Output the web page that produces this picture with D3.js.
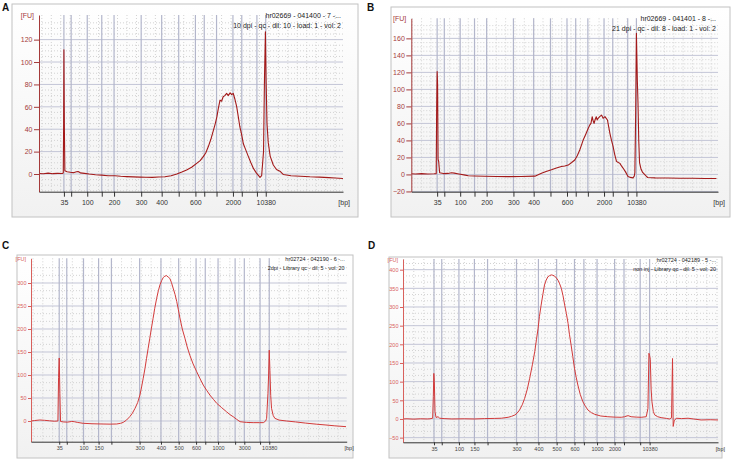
<!DOCTYPE html>
<html>
<head>
<meta charset="utf-8">
<script src="https://cdn.jsdelivr.net/npm/d3@7"></script>
<style>
  body { margin: 0; background: #fff; }
  svg { display: block; font-family: "Liberation Sans", Arial, sans-serif; }
</style>
</head>
<body>
<div id="chart"></div>
<script>
// Ladder peaks (bp) and their migration times (s)
const ladderSizes = [35, 50, 100, 150, 200, 300, 400, 500, 600, 700, 1000, 2000, 3000, 7000, 10380];
const ladderTimes = [43.0, 45.3, 50.4, 55.0, 58.9, 67.5, 74.0, 79.4, 84.7, 87.5, 91.4, 96.6, 99.4, 104.2, 107.0];

// Labelled x ticks per panel
const xLabelsA = [35, 100, 200, 300, 400, 600, 2000, 10380];
const xLabelsB = [35, 100, 200, 300, 400, 600, 2000, 10380];
const xLabelsC = [35, 100, 150, 300, 400, 500, 600, 1000, 3000, 10380];
const xLabelsD = [35, 100, 150, 300, 400, 500, 600, 1000, 2000, 10380];

// y ticks per panel
const yTicksA = [0, 20, 40, 60, 80, 100, 120];
const yTicksB = [-20, 0, 20, 40, 60, 80, 100, 120, 140, 160];
const yTicksC = [0, 50, 100, 150, 200, 250, 300];
const yTicksD = [-50, 0, 50, 100, 150, 200, 250, 300, 350, 400];

// Sample headers
const headerA = ["hr02669 - 041400 - 7 -...", "10 dpi - qc - dil: 10 - load: 1 - vol: 2"];
const headerB = ["hr02669 - 041401 - 8 -...", "21 dpi - qc - dil: 8 - load: 1 - vol: 2"];
const headerC = ["hr02724 - 042190 - 6 -...", "2dpi - Library qc - dil: 5 - vol: 20"];
const headerD = ["hr02724 - 042189 - 5 -...", "non inj - Library qc - dil: 5 - vol: 20"];

// Traces: [time (s), FU]
const traceA = [[35.1,0.5],[36.5,0.2],[38,0.8],[39.5,0.3],[41,0.6],[42.5,0.4],[42.8,1],[42.9,40],[43.0,111],[43.15,40],[43.3,3],[44,2],[45,1.5],[46,1.2],[47,2],[47.5,2.3],[48.2,1],[49.5,0.6],[51,0],[53,-0.6],[55,-1],[57,-1.5],[59.2,-1.6],[61,-2],[63,-2.3],[65,-2.6],[67.1,-2.8],[69,-2.9],[71,-3],[73,-2.7],[75,-2.5],[77,-1.5],[78.8,0],[80.4,1.8],[81.9,3.6],[83.5,6],[85.1,9.5],[86.2,12],[87.2,15.5],[88,19],[88.8,24.5],[89.6,31],[90.4,39],[91,45],[91.5,51],[92,59],[92.5,66],[93,65],[93.5,69],[94,70],[94.6,72],[95.1,70],[95.7,72.5],[96.2,71],[96.7,72],[97.2,67],[97.8,60],[98.3,51],[98.8,42],[99.3,36],[99.9,27],[100.6,22],[101.5,15.5],[102.3,10],[103.1,5],[104,1],[105.2,-3],[105.7,-1.5],[106.3,20],[106.6,85],[106.9,127],[107.1,85],[107.4,45],[107.8,28],[108.4,16],[109.4,8],[110.4,4],[111.5,2.5],[112.6,-0.5],[115,-1.5],[118,-2],[121,-2.5],[124,-2.8],[127,-3.2],[129,-3.5],[131.5,-4]];

const traceB = [[34.7,0.8],[36,0.5],[38,1],[40,0.6],[42,0.8],[42.7,1],[42.85,80],[43.0,121],[43.15,105],[43.3,18],[43.5,15],[43.8,2],[45,1],[46.5,1.2],[47.6,2],[48.5,1.5],[50,0.5],[52,-0.8],[53,-1.5],[55,-1.8],[58.3,-2.2],[62,-2.5],[66,-2.6],[70,-2.5],[74.4,-2],[76.5,1.5],[78,3.5],[79.7,5.4],[81.3,7.5],[82.9,9.3],[84,10],[85.1,11],[86.2,14],[87.2,17],[88,22],[88.8,28.7],[89.4,35],[89.9,40.4],[90.7,47],[91.5,54],[92,58],[92.4,60],[92.8,67.9],[93.1,63],[93.4,60],[93.7,64],[94.1,67.9],[94.4,64],[94.7,66],[95.2,68],[95.8,69.8],[96.3,66],[96.9,67.9],[97.3,66],[97.7,64],[98.1,56],[98.5,48],[99,40],[99.5,33],[100,24],[100.6,15.4],[101.2,14],[101.7,13],[102.2,10],[102.7,7.5],[103.5,3],[104.3,-2.3],[105.1,-3.5],[105.9,-4],[106.3,-2],[106.5,2],[106.75,70],[107.0,166],[107.3,110],[107.5,85],[107.75,40],[108.0,14],[108.5,6],[109.0,2.4],[110,-1.5],[110.6,-3.6],[113,-4],[117,-4.2],[121,-4.4],[125,-4.5],[129,-4.7],[132.7,-4.8]];

const traceC = [[34.4,0],[35.5,1],[37.1,2.2],[38.5,1.5],[40,0.5],[41.5,-0.5],[42.6,0],[42.8,95],[43.0,137],[43.2,60],[43.4,-1],[44.2,-2],[45.5,-2.5],[46.8,-1],[47.6,-1.5],[48.5,-3],[50.3,-5],[53,-6],[56,-6.5],[58.5,-6.8],[60.5,-6.5],[61.7,-5],[62.5,-3],[63.5,2],[64.5,9.4],[65.3,17],[66.1,27.5],[66.9,40],[67.6,56.5],[68.1,74],[68.6,93],[69.1,113],[69.6,136],[70.1,158],[70.6,180],[71.1,202],[71.6,223],[72.1,245],[72.7,267],[73.2,283],[73.7,296],[74.2,305],[74.7,312],[75.2,315],[75.7,316],[76.2,313],[76.7,310],[77.2,301],[77.7,289],[78.3,275],[78.8,260],[79.3,242],[79.8,223],[80.5,200],[81.3,180],[82,161],[82.8,143],[83.8,124],[84.9,107],[85.9,92],[86.9,78],[87.9,67],[88.9,56.5],[90,47],[91,38.4],[92.5,29],[94,20],[95,14],[96,9.4],[97,4],[98.1,-1.5],[100,-3],[102.1,-3.6],[104,-3.6],[105.2,-3.6],[105.9,0],[106.2,5.8],[106.6,60],[106.8,100],[107.0,154],[107.2,110],[107.45,55],[107.7,27.5],[108.2,12],[108.7,5.8],[110,2],[112.3,0],[115,-2],[118,-4.5],[121.5,-7],[124,-8.5],[127,-10.5],[130.4,-12.3]];

const traceD = [[33.8,0],[35,0.5],[37,-0.5],[39,0.5],[41,0],[41.8,0.5],[42.6,2],[42.8,60],[42.95,122],[43.1,100],[43.3,20],[43.6,4],[44.2,6],[44.7,2],[46,1],[48.3,0],[52,0.5],[55,0],[58,1],[61,1.5],[63,2],[65,4.5],[66,7],[67,10.7],[67.7,16],[68.4,24],[69.2,38],[69.9,55],[70.7,80],[71.4,109],[72.2,145],[72.9,180],[73.4,212],[73.9,243],[74.3,275],[74.8,305],[75.3,333],[75.8,359],[76.3,372],[76.8,381],[77.3,384],[77.8,386],[78.3,385],[78.8,383],[79.3,378],[79.8,372],[80.3,362],[80.8,350],[81.3,330],[81.8,305],[82.3,282],[82.8,256],[83.2,227],[83.7,198],[84.2,167],[84.7,136],[85.2,112],[85.7,91],[86.4,66],[87.2,46],[88,33],[88.7,24],[89.7,17],[90.7,12.5],[92.5,8],[94.6,6],[96.5,5],[98.6,4.5],[99.6,6],[100.6,9],[101.5,6],[103,5],[104.5,4.5],[106,6],[106.5,28],[106.8,176],[107.0,170],[107.2,160],[107.45,80],[107.7,46],[108.1,20],[108.5,11],[109.4,6],[110.4,3.6],[112,1.5],[112.9,0],[113.5,3],[113.8,162],[114.0,-20],[114.3,-5],[114.9,2],[116.5,1],[118.4,2],[120,0],[122.3,-2.7],[125,-2],[127.3,-2.7]];

const width = 738;
const height = 461;

const svg = d3.select("#chart").append("svg")
  .attr("width", width)
  .attr("height", height);

const grad = svg.append("defs").append("linearGradient")
  .attr("id", "bg").attr("x1", 0).attr("y1", 0).attr("x2", 0).attr("y2", 1);
grad.append("stop").attr("offset", "0%").attr("stop-color", "#ffffff");
grad.append("stop").attr("offset", "100%").attr("stop-color", "#f1f1f1");

const darkStyle = { line: "#a31a1a", axis: "#a53a3a", yText: "#a53a3a", xText: "#333", font: 7, tick: 5, xPad: 3, lineWidth: 1.1 };
const lightStyle = { line: "#d23a3a", axis: "#d8605c", yText: "#d8605c", xText: "#444", font: 5.5, tick: 3, xPad: 1.5, lineWidth: 1 };

const panels = [
  { id: "A", frame: [12, 4, 358, 217], left: 39, right: 343, top: 15, bottom: 191.7,
    xDomain: [35.1, 131.5], yDomain: [-15.8, 142], yTicks: yTicksA, minor: 3,
    xLabels: xLabelsA, header: headerA, trace: traceA, style: darkStyle, letter: [2, 11] },
  { id: "B", frame: [391, 7, 730, 217], left: 411.3, right: 718, top: 18.3, bottom: 191.7,
    xDomain: [34.7, 133.2], yDomain: [-20.3, 183.6], yTicks: yTicksB, minor: 3,
    xLabels: xLabelsB, header: headerB, trace: traceB, style: darkStyle, letter: [367, 11] },
  { id: "C", frame: [17, 255, 353, 458], left: 31, right: 346.7, top: 258.3, bottom: 441.7,
    xDomain: [34.4, 130.6], yDomain: [-45, 353.7], yTicks: yTicksC, minor: 2,
    xLabels: xLabelsC, header: headerC, trace: traceC, style: lightStyle, letter: [2, 249] },
  { id: "D", frame: [389, 257, 722, 458], left: 403, right: 718, top: 259, bottom: 442.3,
    xDomain: [33.8, 127.3], yDomain: [-62.5, 428.6], yTicks: yTicksD, minor: 2,
    xLabels: xLabelsD, header: headerD, trace: traceD, style: lightStyle, letter: [368, 249] }
];

panels.forEach(drawPanel);

function drawPanel(p) {
  const s = p.style;
  const g = svg.append("g");

  // Frame
  g.append("rect")
    .attr("x", p.frame[0]).attr("y", p.frame[1])
    .attr("width", p.frame[2] - p.frame[0])
    .attr("height", p.frame[3] - p.frame[1])
    .attr("fill", "url(#bg)")
    .attr("stroke", "#c2c2c2");

  // Panel letter
  svg.append("text")
    .attr("x", p.letter[0]).attr("y", p.letter[1])
    .text(p.id)
    .style("font-size", "10px").style("font-weight", "bold").attr("fill", "#111");

  const x = d3.scaleLinear().domain(p.xDomain).range([p.left, p.right]);
  const y = d3.scaleLinear().domain(p.yDomain).range([p.bottom, p.top]);

  // Grid: dotted minor lines
  const step = p.yTicks[1] - p.yTicks[0];
  const minorStep = step / (p.minor + 1);
  const minorY = d3.range(p.yTicks[0] - step, p.yDomain[1], minorStep)
    .filter((v) => v > p.yDomain[0] && Math.abs(v / step - Math.round(v / step)) > 0.01);
  g.append("g").selectAll("line").data(minorY).join("line")
    .attr("x1", p.left).attr("x2", p.right)
    .attr("y1", (d) => y(d)).attr("y2", (d) => y(d))
    .attr("stroke", "#d2d2d2").attr("stroke-dasharray", "1,2");

  const minorX = d3.range(Math.ceil(p.xDomain[0]), p.xDomain[1], 3);
  g.append("g").selectAll("line").data(minorX).join("line")
    .attr("x1", (d) => x(d)).attr("x2", (d) => x(d))
    .attr("y1", p.top).attr("y2", p.bottom)
    .attr("stroke", "#d2d2d2").attr("stroke-dasharray", "1,2");

  // Grid: solid lines at y ticks and ladder peaks
  g.append("g").selectAll("line").data(p.yTicks).join("line")
    .attr("x1", p.left).attr("x2", p.right)
    .attr("y1", (d) => y(d)).attr("y2", (d) => y(d))
    .attr("stroke", "#c3c5d6");

  g.append("g").selectAll("line").data(ladderTimes).join("line")
    .attr("x1", (d) => x(d)).attr("x2", (d) => x(d))
    .attr("y1", p.top).attr("y2", p.bottom)
    .attr("stroke", "#b3b6cb")
    .attr("stroke-width", 1.2);

  // Header text
  g.append("g").selectAll("text").data(p.header).join("text")
    .attr("x", p.right - 2)
    .attr("y", (d, i) => p.top + 2.5 + i * (s.font + 3.5))
    .attr("text-anchor", "end")
    .text((d) => d)
    .style("font-size", s.font + "px")
    .attr("fill", "#222");

  // Trace
  const clipId = "clip" + p.id;
  g.append("clipPath").attr("id", clipId).append("rect")
    .attr("x", p.left).attr("y", p.top)
    .attr("width", p.right - p.left).attr("height", p.bottom - p.top);

  g.append("path")
    .datum(p.trace)
    .attr("clip-path", `url(#${clipId})`)
    .attr("fill", "none")
    .attr("stroke", s.line)
    .attr("stroke-width", s.lineWidth)
    .attr("stroke-linejoin", "round")
    .attr("d", d3.line().x((d) => x(d[0])).y((d) => y(d[1])));

  // Axes
  const yAxis = d3.axisLeft(y).tickValues(p.yTicks).tickSize(s.tick).tickSizeOuter(0).tickPadding(1.5);
  const yg = g.append("g").attr("transform", `translate(${p.left},0)`).call(yAxis);
  yg.select(".domain").attr("stroke", s.axis);
  yg.selectAll(".tick line").attr("stroke", s.axis);
  yg.selectAll(".tick text").attr("fill", s.yText).style("font-size", s.font + "px").style("font-family", "inherit");

  const xAxis = d3.axisBottom(x)
    .tickValues(ladderTimes)
    .tickSize(s.tick)
    .tickSizeOuter(0)
    .tickPadding(s.xPad)
    .tickFormat((d, i) => (p.xLabels.includes(ladderSizes[i]) ? ladderSizes[i] : ""));
  const xg = g.append("g").attr("transform", `translate(0,${p.bottom})`).call(xAxis);
  xg.select(".domain").attr("stroke", "#333");
  xg.selectAll(".tick line").attr("stroke", "#333");
  xg.selectAll(".tick text").attr("fill", s.xText).style("font-size", s.font + "px").style("font-family", "inherit");

  // Axis units
  g.append("text")
    .attr("x", p.left - 5).attr("y", p.top + 2.5)
    .attr("text-anchor", "end")
    .text("[FU]")
    .style("font-size", s.font + "px")
    .attr("fill", s.yText);

  g.append("text")
    .attr("x", p.right + 7)
    .attr("y", p.bottom + s.tick + s.xPad + s.font * 0.71)
    .attr("text-anchor", "end")
    .text("[bp]")
    .style("font-size", s.font + "px")
    .attr("fill", "#333");
}
</script>
</body>
</html>
